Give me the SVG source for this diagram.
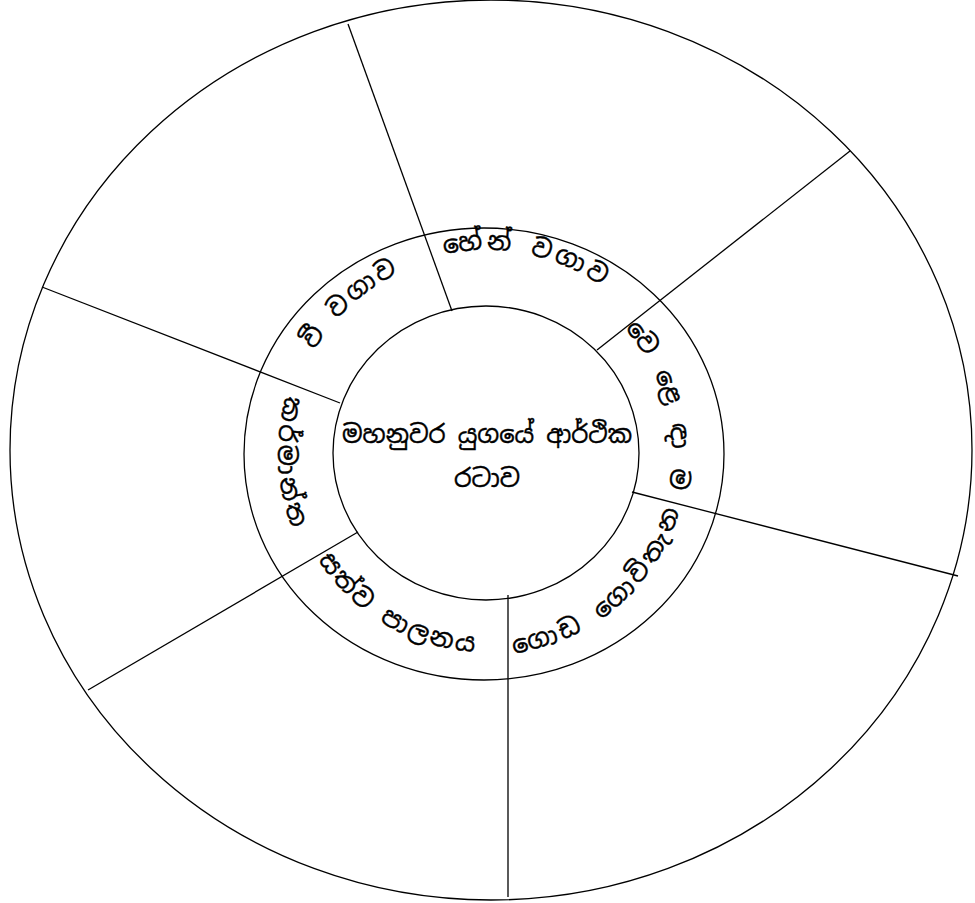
<svg xmlns="http://www.w3.org/2000/svg" width="975" height="903" viewBox="0 0 975 903">
<style>
.ring{fill:none;stroke:#000;stroke-width:1.3}
.conn line{stroke:#000;stroke-width:1.3}
.lbl{font-family:"Noto Sans Sinhala","Iskoola Pota","Noto Serif Sinhala","Noto Sans","DejaVu Sans",sans-serif;font-size:25px;fill:#000;stroke:#000;stroke-width:0.4}
.ctr{font-size:25px}
</style>
<defs>
<path id="p1" d="M443.8,254.4 A203,203 0 0 1 605.3,288.8"/>
<path id="p2" d="M314.6,350 A200,200 0 0 1 401.5,271.7"/>
<path id="p3" d="M624.2,328.5 A186,186 0 0 1 667.9,491.7"/>
<path id="p4" d="M514.1,653 A202,202 0 0 0 681.1,505.3"/>
<path id="p5" d="M318.2,559.9 A199,199 0 0 0 479.1,651.9"/>
<path id="p6" d="M286.1,395.7 A208,208 0 0 0 293.8,532.6"/>
</defs>
<rect width="975" height="903" fill="#fff"/>
<g id="outer"><ellipse class="ring" cx="491" cy="450" rx="481" ry="450"/></g>
<g id="ring"><ellipse class="ring" cx="484" cy="454" rx="240" ry="226"/></g>
<g class="conn" id="connectors">
<line x1="452" y1="311" x2="348" y2="24"/>
<line x1="597" y1="350" x2="850" y2="151"/>
<line x1="632" y1="492" x2="958" y2="576"/>
<line x1="508" y1="595" x2="508" y2="897"/>
<line x1="358" y1="532" x2="88" y2="690"/>
<line x1="340" y1="403" x2="42" y2="287"/>
</g>
<g id="center">
<ellipse class="ring" cx="486" cy="453" rx="153" ry="147" fill="#fff"/>
<text class="lbl ctr" x="487" y="443" text-anchor="middle" textLength="290" lengthAdjust="spacingAndGlyphs">මහනුවර යුගයේ ආර්ථික</text>
<text class="lbl ctr" x="487" y="487" text-anchor="middle">රටාව</text>
</g>
<g id="seg-hen"><text class="lbl"><textPath href="#p1" textLength="165" lengthAdjust="spacing">හේන් වගාව</textPath></text></g>
<g id="seg-vee"><text class="lbl"><textPath href="#p2" textLength="115" lengthAdjust="spacing">වී වගාව</textPath></text></g>
<g id="seg-trade"><text class="lbl"><textPath href="#p3" textLength="172" lengthAdjust="spacing">වෙළෙඳාම</textPath></text></g>
<g id="seg-goda"><text class="lbl"><textPath href="#p4" textLength="230" lengthAdjust="spacing">ගොඩ ගොවිතැන</textPath></text></g>
<g id="seg-satva"><text class="lbl"><textPath href="#p5" textLength="188" lengthAdjust="spacing">සත්ව පාලනය</textPath></text></g>
<g id="seg-karma"><text class="lbl"><textPath href="#p6" textLength="135" lengthAdjust="spacing">කර්මාන්ත</textPath></text></g>
</svg>
